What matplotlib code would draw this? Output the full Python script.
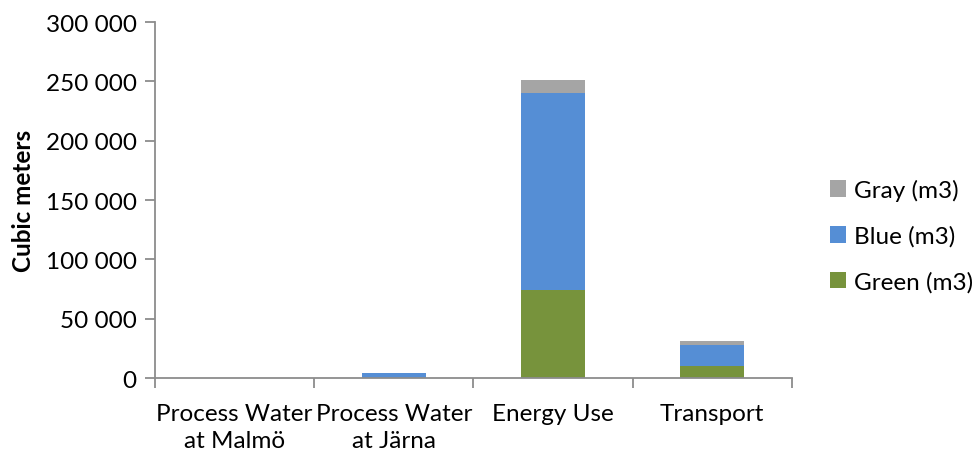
import numpy as np
import matplotlib.pyplot as plt
from matplotlib.ticker import FuncFormatter

plt.rcParams['font.family'] = ['Lato', 'DejaVu Sans']

categories = ["Process Water\nat Malmö", "Process Water\nat Järna", "Energy Use", "Transport"]
green = [0, 0, 74000, 10000]
blue = [200, 4200, 166500, 18200]
gray = [0, 0, 10500, 3400]

c_green = "#77933C"
c_blue = "#558ED5"
c_gray = "#A5A5A5"
axis_col = "#8C8C8C"
fs = 17.5

fig = plt.figure(figsize=(9.8, 4.6), dpi=100)
ax = fig.add_axes([0.158, 0.176, 0.65, 0.774])

x = np.arange(len(categories))
w = 0.4
b1 = ax.bar(x, green, w, color=c_green, label="Green (m3)")
b2 = ax.bar(x, blue, w, bottom=green, color=c_blue, label="Blue (m3)")
bottom2 = np.array(green) + np.array(blue)
b3 = ax.bar(x, gray, w, bottom=bottom2, color=c_gray, label="Gray (m3)")

ax.set_xlim(-0.5, len(categories) - 0.5)
ax.set_ylim(0, 300000)
ax.set_yticks(np.arange(0, 300001, 50000))
ax.yaxis.set_major_formatter(FuncFormatter(lambda v, p: f"{int(v):,}".replace(",", " ")))

ax.set_xticks(x)
ax.set_xticklabels(categories, linespacing=1.35)
ax.set_xticks(np.arange(-0.5, len(categories), 1), minor=True)
ax.tick_params(axis='x', which='major', length=0, labelsize=fs, pad=18)
ax.tick_params(axis='x', which='minor', length=7, color=axis_col, width=1.3)
ax.tick_params(axis='y', length=7, color=axis_col, width=1.3, labelsize=fs, pad=6)

for s in ['top', 'right']:
    ax.spines[s].set_visible(False)
for s in ['left', 'bottom']:
    ax.spines[s].set_color(axis_col)
    ax.spines[s].set_linewidth(1.3)

ax.set_ylabel("Cubic meters", fontsize=fs, fontweight='bold', labelpad=8)

ax.legend(handles=[b3, b2, b1], loc='center left', bbox_to_anchor=(0.847, 0.485),
          bbox_transform=fig.transFigure, borderaxespad=0, borderpad=0,
          frameon=False, fontsize=fs, handlelength=0.65, handleheight=0.65,
          handletextpad=0.35, labelspacing=1.0)

plt.savefig("out.png", dpi=100)
